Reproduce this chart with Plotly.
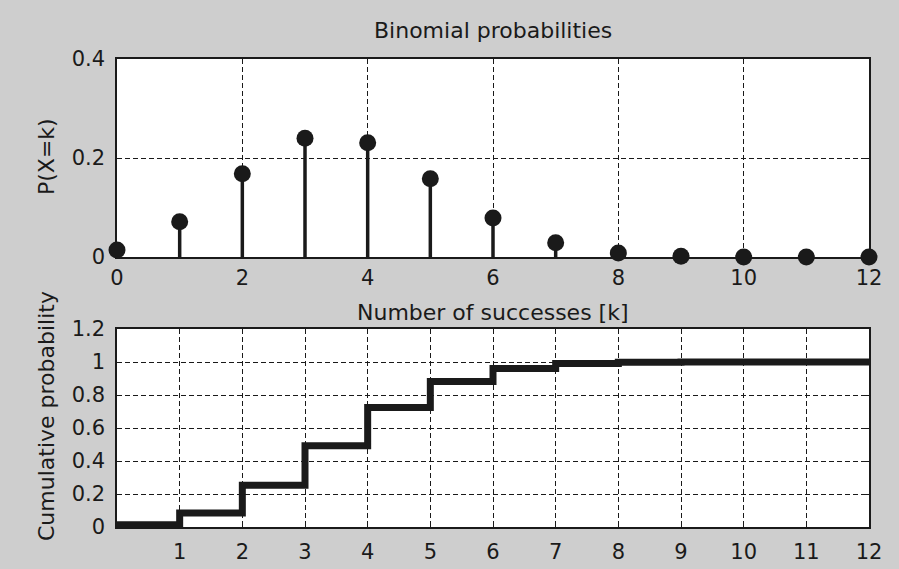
import plotly.graph_objects as go

# ---- data ----
k_values = list(range(13))
pmf_values = [0.014, 0.071, 0.168, 0.240, 0.231, 0.158, 0.079, 0.029, 0.008, 0.0015, 0.0002, 0.0, 0.0]
cdf_values = [0.014, 0.085, 0.253, 0.493, 0.724, 0.882, 0.961, 0.991, 0.998, 1.0, 1.0, 1.0, 1.0]
top_xticks = [0, 2, 4, 6, 8, 10, 12]
top_yticks = [0, 0.2, 0.4]
bot_xticks = [1, 2, 3, 4, 5, 6, 7, 8, 9, 10, 11, 12]
bot_yticks = [0, 0.2, 0.4, 0.6, 0.8, 1.0, 1.2]
top_ytick_text = ["0", "0.2", "0.4"]
bot_ytick_text = ["0", "0.2", "0.4", "0.6", "0.8", "1", "1.2"]

FONT = "DejaVu Sans"
TXT = "#1a1a1a"
BG = "rgb(206,206,206)"

W, H = 899, 569
L, R, T, B = 117, 30, 59, 42
PW, PH = W - L - R, H - T - B


def px_x(x):
    return (x - L) / PW


def px_y(y):
    return (H - B - y) / PH


fig = go.Figure()

# stems + markers
fig.add_trace(go.Scatter(
    x=k_values, y=pmf_values, mode="markers",
    marker=dict(color="#1a1a1a", size=17, line=dict(width=0)),
    error_y=dict(type="data", symmetric=False, array=[0] * len(pmf_values),
                 arrayminus=pmf_values, thickness=3.5, width=0, color="#1a1a1a"),
    cliponaxis=False, showlegend=False,
    xaxis="x", yaxis="y",
))

# stairs
fig.add_trace(go.Scatter(
    x=k_values, y=cdf_values, mode="lines", line_shape="hv",
    line=dict(color="#1a1a1a", width=7),
    showlegend=False, xaxis="x2", yaxis="y2",
))

top_dom = [px_y(257), 1.0]
bot_dom = [0.0, px_y(329)]

axis_common = dict(
    showline=True, linecolor="#1a1a1a", linewidth=1.5, mirror="ticks",
    ticks="inside", ticklen=5, tickcolor="#1a1a1a", automargin=False,
    showgrid=True, gridcolor="#1a1a1a", gridwidth=1.2, griddash="5px,3px",
    zeroline=False, tickfont=dict(family=FONT, size=21, color=TXT),
)

fig.update_layout(
    width=W, height=H,
    margin=dict(l=L, r=R, t=T, b=B, autoexpand=False),
    paper_bgcolor=BG, plot_bgcolor="white",
    xaxis=dict(domain=[0, 1], anchor="y", range=[0, 12], tickvals=top_xticks,
               ticklabelstandoff=1, **axis_common),
    yaxis=dict(domain=top_dom, anchor="x", range=[0, 0.4], tickvals=top_yticks,
               ticktext=top_ytick_text, ticklabelstandoff=6, **axis_common),
    xaxis2=dict(domain=[0, 1], anchor="y2", range=[0, 12], tickvals=bot_xticks,
                ticklabelstandoff=5, **axis_common),
    yaxis2=dict(domain=bot_dom, anchor="x2", range=[0, 1.2], tickvals=bot_yticks,
                ticktext=bot_ytick_text, ticklabelstandoff=6, **axis_common),
    showlegend=False,
)

ann_font = dict(family=FONT, size=22, color=TXT)
fig.add_annotation(text="Binomial probabilities", x=0.5, y=px_y(30),
                   xref="paper", yref="paper", showarrow=False,
                   xanchor="center", yanchor="middle", font=ann_font)
fig.add_annotation(text="Number of successes [k]", x=0.5, y=px_y(312),
                   xref="paper", yref="paper", showarrow=False,
                   xanchor="center", yanchor="middle", font=ann_font)
fig.add_annotation(text="P(X=k)", x=px_x(46), y=px_y(157), textangle=-90,
                   xref="paper", yref="paper", showarrow=False,
                   xanchor="center", yanchor="middle", font=ann_font)
fig.add_annotation(text="Cumulative probability", x=px_x(46), y=px_y(416), textangle=-90,
                   xref="paper", yref="paper", showarrow=False,
                   xanchor="center", yanchor="middle", font=ann_font)

fig.write_html("out.html")
